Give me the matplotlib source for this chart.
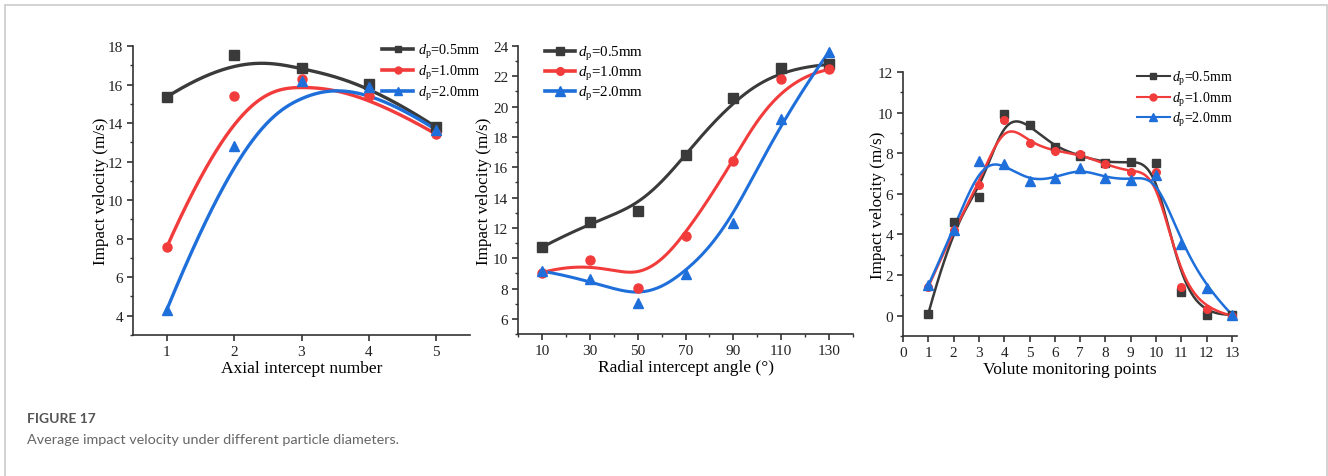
import numpy as np
import matplotlib
matplotlib.use("Agg")
import matplotlib.pyplot as plt
from matplotlib.patches import Rectangle
from matplotlib.ticker import MultipleLocator

plt.rcParams["font.family"] = ["Liberation Serif", "DejaVu Serif"]
plt.rcParams["mathtext.fontset"] = "custom"
plt.rcParams["mathtext.rm"] = "Liberation Serif"
plt.rcParams["mathtext.it"] = "Liberation Serif:italic"

labels = [r"$d_{\rm p}$=0.5mm", r"$d_{\rm p}$=1.0mm", r"$d_{\rm p}$=2.0mm"]
colors = ["#3a3a3a", "#f23b3b", "#1f6fdb"]
markers = ["s", "o", "^"]

# axial intercepts
axial_x = [1, 2, 3, 4, 5]
axial_05 = [15.35, 17.55, 16.85, 16.05, 13.78]
axial_10 = [7.55, 15.4, 16.28, 15.42, 13.42]
axial_20 = [4.3, 12.8, 16.2, 15.85, 13.65]

# radial intercept angles
radial_x = [10, 30, 50, 70, 90, 110, 130]
radial_05 = [10.72, 12.38, 13.12, 16.82, 20.55, 22.55, 22.78]
radial_10 = [9.05, 9.9, 8.05, 11.48, 16.42, 21.85, 22.45]
radial_20 = [9.15, 8.6, 7.07, 8.98, 12.33, 19.18, 23.62]

# volute monitoring points
volute_x = list(range(1, 14))
volute_05 = [0.1, 4.6, 5.85, 9.95, 9.4, 8.3, 7.87, 7.53, 7.58, 7.5, 1.15, 0.03, 0.05]
volute_10 = [1.42, 4.22, 6.43, 9.66, 8.52, 8.1, 7.95, 7.45, 7.08, 7.1, 1.41, 0.31, 0.0]
volute_20 = [1.5, 4.22, 7.63, 7.45, 6.63, 6.78, 7.25, 6.8, 6.69, 6.94, 3.54, 1.36, 0.05]


def bspline(x, y, n=500):
    # clamped cubic B-spline using the data points as control points
    P = np.column_stack([x, y]).astype(float)
    m = len(P)
    knots = np.concatenate([[0.0] * 3, np.arange(m - 2, dtype=float), [m - 3.0] * 3])
    t = np.linspace(0, m - 3, n)
    N = np.zeros((n, len(knots) - 1))
    for i in range(len(knots) - 1):
        N[:, i] = (knots[i] <= t) & (t < knots[i + 1])
    N[t == knots[-1], m - 1] = 1.0
    for p in range(1, 4):
        M = np.zeros((n, len(knots) - 1 - p))
        for i in range(len(knots) - 1 - p):
            d1 = knots[i + p] - knots[i]
            d2 = knots[i + p + 1] - knots[i + 1]
            if d1 > 0:
                M[:, i] += (t - knots[i]) / d1 * N[:, i]
            if d2 > 0:
                M[:, i] += (knots[i + p + 1] - t) / d2 * N[:, i + 1]
        N = M
    C = N @ P
    return C[:, 0], C[:, 1]


W, H = 1328, 477
fig = plt.figure(figsize=(W / 100, H / 100), dpi=100)


def add_panel(l, t, r, b):
    return fig.add_axes([l / W, 1 - b / H, (r - l) / W, (b - t) / H])


panels = [
    dict(box=(133, 47, 470, 336), x=axial_x, ys=[axial_05, axial_10, axial_20],
         lw=2.4, ms=6.5, xlim=(0.5, 5.5), ylim=(3, 18),
         xticks=axial_x, xminor=None, xlabel="Axial intercept number",
         leg=(0.722, 1.033), leg_fs=10.3, leg_hl=2.17, leg_pad=0.35, leg_sp=0.21,
         leg_lw=2.6, leg_ms=5, ylpad=-1),
    dict(box=(518, 47, 853, 335), x=radial_x, ys=[radial_05, radial_10, radial_20],
         lw=2.2, ms=6.5, xlim=(0, 140), ylim=(5, 24),
         xticks=radial_x, xminor=10, xlabel="Radial intercept angle (°)",
         leg=(0.063, 1.028), leg_fs=10.8, leg_hl=2.0, leg_pad=0.2, leg_sp=0.15,
         leg_lw=2.6, leg_ms=5.5, ylpad=1),
    dict(box=(903, 73, 1237, 337), x=volute_x, ys=[volute_05, volute_10, volute_20],
         lw=1.8, ms=5.5, xlim=(0, 13.2), ylim=(-1, 12),
         xticks=list(range(0, 14)), xminor=None, xlabel="Volute monitoring points",
         leg=(0.684, 1.031), leg_fs=10.0, leg_hl=2.37, leg_pad=0.15, leg_sp=0.18,
         leg_lw=1.5, leg_ms=5, ylpad=-6),
]

for p in panels:
    ax = add_panel(*p["box"])
    for ys, c, m, lab in zip(p["ys"], colors, markers, labels):
        gx, gy = bspline(p["x"], ys)
        ms = p["ms"] + 1 if m == "^" else p["ms"]
        ax.plot(gx, gy, color=c, lw=p["lw"], zorder=2)
        ax.plot(p["x"], ys, ls="none", marker=m, color=c, ms=ms, zorder=3)
        lms = p["leg_ms"] + 1 if m == "^" else p["leg_ms"]
        ax.plot([], [], color=c, lw=p["leg_lw"], marker=m, ms=lms, label=lab)
    ax.set_xlim(*p["xlim"])
    ax.set_xticks(p["xticks"])
    if p["xminor"]:
        ax.xaxis.set_minor_locator(MultipleLocator(p["xminor"]))
    ax.yaxis.set_major_locator(MultipleLocator(2))
    ax.yaxis.set_minor_locator(MultipleLocator(1))
    ax.set_ylim(*p["ylim"])
    for s in ("top", "right"):
        ax.spines[s].set_visible(False)
    for s in ("left", "bottom"):
        ax.spines[s].set_color("#333333")
        ax.spines[s].set_linewidth(1.2)
    ax.tick_params(which="major", direction="out", length=4, width=1.1,
                   labelsize=11, colors="#222222", pad=3)
    ax.tick_params(which="minor", direction="out", length=2.5, width=1.0,
                   colors="#333333")
    ax.set_xlabel(p["xlabel"], fontsize=12.5, labelpad=2)
    ax.set_ylabel("Impact velocity (m/s)", fontsize=12.3, labelpad=p["ylpad"])
    ax.legend(loc="upper left", bbox_to_anchor=p["leg"], frameon=False,
              fontsize=p["leg_fs"], handlelength=p["leg_hl"],
              handletextpad=p["leg_pad"], labelspacing=p["leg_sp"],
              borderaxespad=0.0, numpoints=1)

# outer frame of the figure box
fig.patches.append(Rectangle((5 / W, -0.05), 1322 / W, 1 - 6 / H + 0.05,
                             transform=fig.transFigure, fill=False,
                             ec="#cfcfcf", lw=1.3))

fig.text(27 / W, 1 - 419 / H, "FIGURE 17", family="Lato", weight="bold",
         fontsize=10, color="#555555", va="center")
fig.text(27 / W, 1 - 440 / H, "Average impact velocity under different particle diameters.",
         family="Lato", fontsize=10.4, color="#666666", va="center")

fig.savefig("out.png", dpi=100)
